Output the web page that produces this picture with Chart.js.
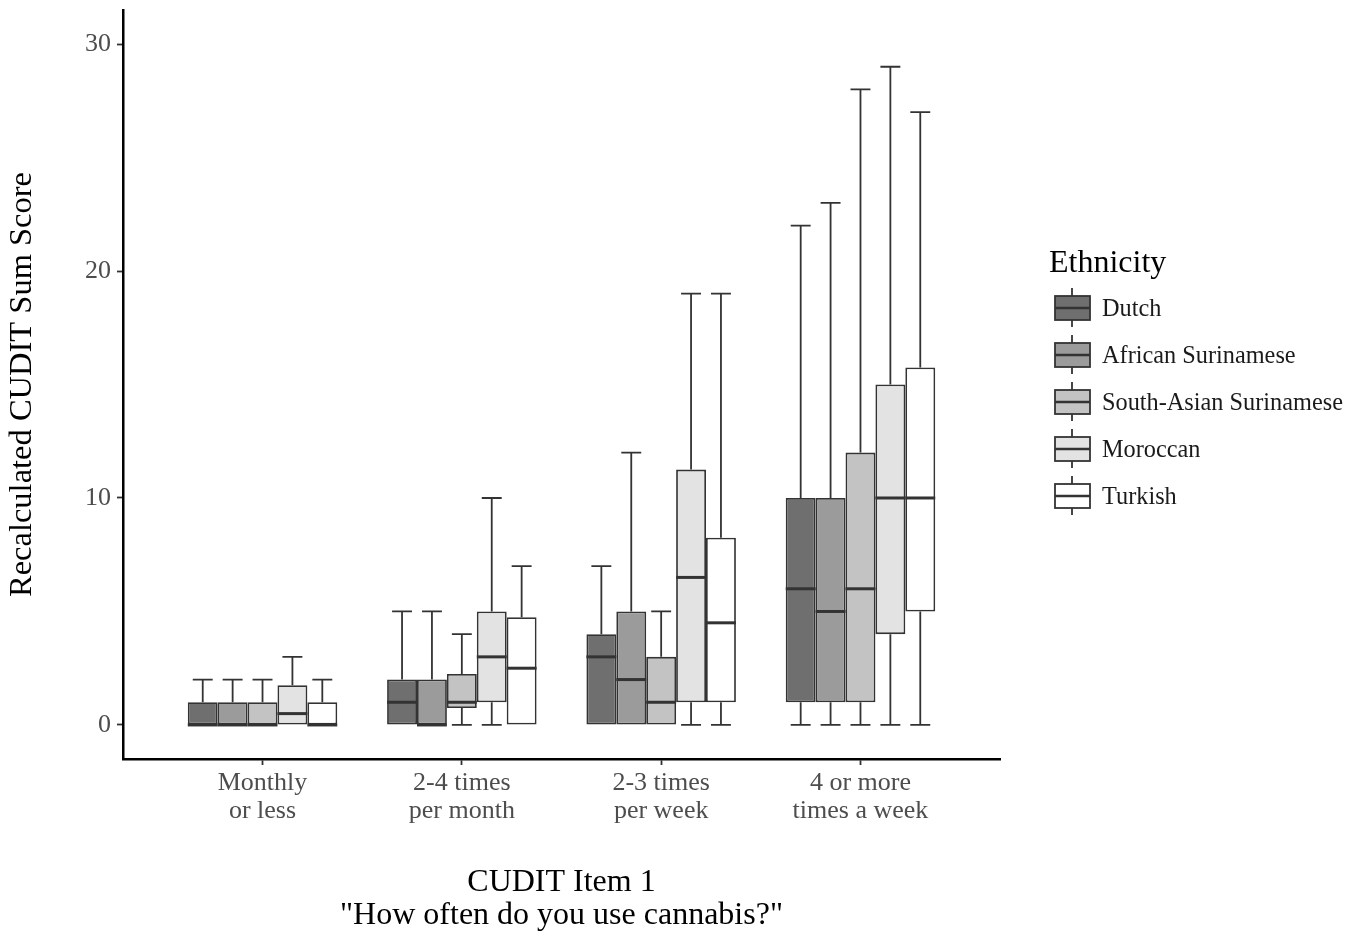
<!DOCTYPE html>
<html>
<head>
<meta charset="utf-8">
<script src="https://cdn.jsdelivr.net/npm/chart.js@4.4.0/dist/chart.umd.min.js"></script>
<style>
  html, body { margin: 0; padding: 0; background: #fff; }
  #wrap { width: 1364px; height: 938px; position: relative; }
</style>
</head>
<body>
<div id="wrap"><canvas id="cudit"></canvas></div>
<script>
const categories = [['Monthly', 'or less'], ['2-4 times', 'per month'], ['2-3 times', 'per week'], ['4 or more', 'times a week']];
const ethnicities = ['Dutch', 'African Surinamese', 'South-Asian Surinamese', 'Moroccan', 'Turkish'];
const yTicks = [0, 10, 20, 30];

// [min, q1, median, q3, max] for each category
const dutch = [[0, 0, 0, 1, 2], [0, 0, 1, 2, 5], [0, 0, 3, 4, 7], [0, 1, 6, 10, 22]];
const africanSurinamese = [[0, 0, 0, 1, 2], [0, 0, 0, 2, 5], [0, 0, 2, 5, 12], [0, 1, 5, 10, 23]];
const southAsianSurinamese = [[0, 0, 0, 1, 2], [0, 0.75, 1, 2.25, 4], [0, 0, 1, 3, 5], [0, 1, 6, 12, 28]];
const moroccan = [[0, 0, 0.5, 1.75, 3], [0, 1, 3, 5, 10], [0, 1, 6.5, 11.25, 19], [0, 4, 10, 15, 29]];
const turkish = [[0, 0, 0, 1, 2], [0, 0, 2.5, 4.75, 7], [0, 1, 4.5, 8.25, 19], [0, 5, 10, 15.75, 27]];

const series = [dutch, africanSurinamese, southAsianSurinamese, moroccan, turkish];
const fills = ['#6f6f6f', '#9b9b9b', '#c3c3c3', '#e3e3e3', '#ffffff'];
const serif = '"Liberation Serif", "DejaVu Serif", serif';
const lineCol = '#333333';

// whiskers under the boxes, medians on top
const boxParts = {
    id: 'boxParts',
    beforeDatasetsDraw(chart) {
        const ctx = chart.ctx, y = chart.scales.y;
        ctx.save();
        ctx.strokeStyle = lineCol;
        ctx.lineWidth = 1.8;
        chart.data.datasets.forEach((ds, i) => {
            chart.getDatasetMeta(i).data.forEach((bar, j) => {
                const s = ds.stats[j];
                const cap = bar.width / 3;
                const whisker = (from, to) => {
                    const y0 = y.getPixelForValue(from), y1 = y.getPixelForValue(to);
                    ctx.beginPath();
                    ctx.moveTo(bar.x, y0);
                    ctx.lineTo(bar.x, y1);
                    ctx.moveTo(bar.x - cap, y1);
                    ctx.lineTo(bar.x + cap, y1);
                    ctx.stroke();
                };
                if (s[4] > s[3]) whisker(s[3], s[4]);
                if (s[0] < s[1]) whisker(s[1], s[0]);
            });
        });
        ctx.restore();
    },
    afterDatasetsDraw(chart) {
        const ctx = chart.ctx, y = chart.scales.y;
        ctx.save();
        ctx.strokeStyle = lineCol;
        ctx.lineWidth = 3;
        chart.data.datasets.forEach((ds, i) => {
            chart.getDatasetMeta(i).data.forEach((bar, j) => {
                const ym = y.getPixelForValue(ds.stats[j][2]);
                ctx.beginPath();
                ctx.moveTo(bar.x - bar.width / 2, ym);
                ctx.lineTo(bar.x + bar.width / 2, ym);
                ctx.stroke();
            });
        });
        ctx.restore();
    }
};

const legendKeys = {
    id: 'legendKeys',
    afterDraw(chart) {
        const ctx = chart.ctx;
        ctx.save();
        ctx.textBaseline = 'middle';
        ctx.fillStyle = '#000';
        ctx.font = '32px ' + serif;
        ctx.fillText('Ethnicity', 1049, 264);
        chart.data.datasets.forEach((ds, i) => {
            const cy = 308 + i * 47, cx = 1072;
            ctx.strokeStyle = lineCol;
            ctx.lineWidth = 1.8;
            ctx.beginPath();
            ctx.moveTo(cx, cy - 20); ctx.lineTo(cx, cy - 12);
            ctx.moveTo(cx, cy + 12); ctx.lineTo(cx, cy + 19);
            ctx.stroke();
            ctx.fillStyle = ds.backgroundColor;
            ctx.fillRect(1055, cy - 12, 35, 24);
            ctx.strokeRect(1055, cy - 12, 35, 24);
            ctx.lineWidth = 2.5;
            ctx.beginPath();
            ctx.moveTo(1055, cy); ctx.lineTo(1090, cy);
            ctx.stroke();
            ctx.fillStyle = '#1a1a1a';
            ctx.font = '24.3px ' + serif;
            ctx.fillText(ds.label, 1102, cy + 2);
        });
        ctx.restore();
    }
};

const datasets = series.map((rows, i) => ({
    label: ethnicities[i],
    stats: rows,
    data: rows.map((s, j) => ({ x: j + 1, y: [s[1], s[3]] })),
    backgroundColor: fills[i],
    borderColor: lineCol,
    borderWidth: 1.8,
    borderSkipped: false
}));

new Chart(document.getElementById('cudit'), {
    type: 'bar',
    data: { datasets },
    plugins: [boxParts, legendKeys],
    options: {
        responsive: true,
        maintainAspectRatio: false,
        animation: false,
        categoryPercentage: 0.75,
        barPercentage: 1,
        layout: { padding: { top: 10, right: 364, left: 0, bottom: 0 } },
        plugins: { legend: { display: false }, tooltip: { enabled: false } },
        scales: {
            x: {
                type: 'linear',
                min: 0.3,
                max: 4.7,
                offset: false,
                afterFit(s) { s.height = 179; s.paddingLeft = 0; s.paddingRight = 0; },
                afterBuildTicks(s) { s.ticks = categories.map((c, i) => ({ value: i + 1 })); },
                grid: { display: true, offset: false, drawOnChartArea: false, tickLength: 6, tickColor: lineCol, tickWidth: 1.8 },
                border: { display: true, color: '#000', width: 2.5 },
                ticks: {
                    autoSkip: false,
                    maxRotation: 0,
                    padding: 4,
                    color: '#4d4d4d',
                    font: { family: serif, size: 26, lineHeight: '28px' },
                    callback: (v) => categories[v - 1]
                },
                title: {
                    display: true,
                    text: ['CUDIT Item 1', '"How often do you use cannabis?"'],
                    color: '#000',
                    font: { family: serif, size: 32, lineHeight: '33px' },
                    padding: { top: 0, bottom: 6 }
                }
            },
            y: {
                min: -1.5,
                max: 31.5,
                afterFit(s) { s.width = 123; s.paddingTop = 0; s.paddingBottom = 0; },
                afterBuildTicks(s) { s.ticks = yTicks.map(v => ({ value: v })); },
                grid: { display: true, drawOnChartArea: false, tickLength: 6, tickColor: lineCol, tickWidth: 1.8 },
                border: { display: true, color: '#000', width: 2.5 },
                ticks: {
                    padding: 6,
                    color: '#4d4d4d',
                    font: { family: serif, size: 26 }
                },
                title: {
                    display: true,
                    text: 'Recalculated CUDIT Sum Score',
                    color: '#000',
                    font: { family: serif, size: 32.5 },
                    padding: { top: 3, bottom: 0 }
                }
            }
        }
    }
});
</script>
</body>
</html>
